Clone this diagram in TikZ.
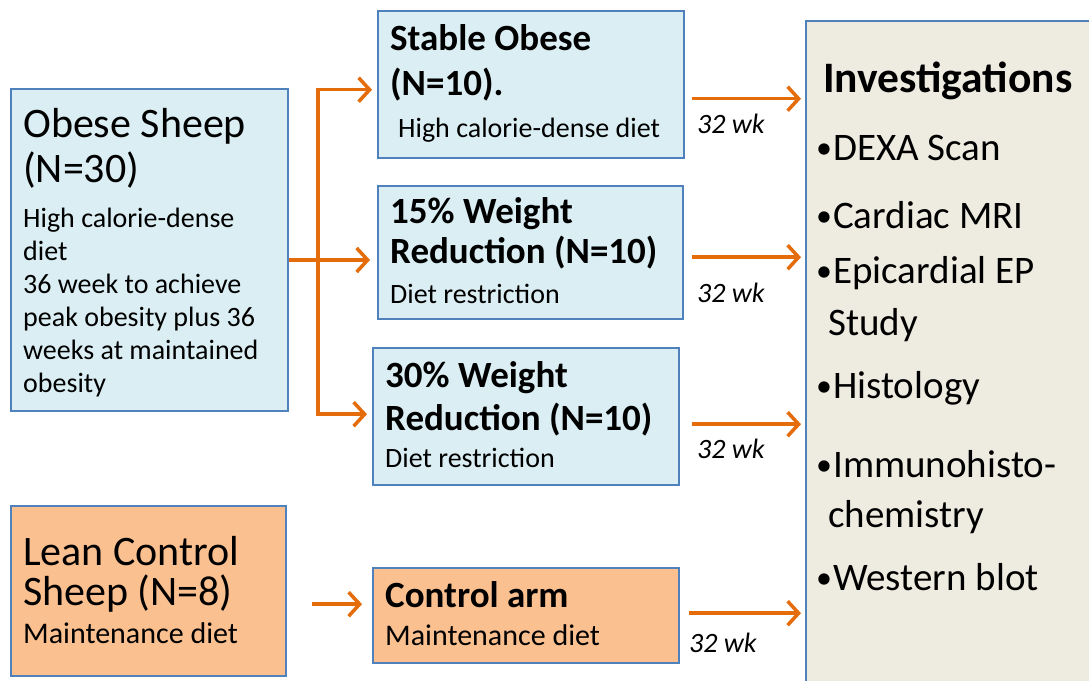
\documentclass[tikz,border=0pt]{standalone}
\usepackage{fontspec}
\setmainfont{Carlito}
\usetikzlibrary{arrows.meta}

\definecolor{boxblue}{RGB}{218,238,243}
\definecolor{edgeblue}{RGB}{79,129,189}
\definecolor{boxorange}{RGB}{250,192,144}
\definecolor{arrorange}{RGB}{228,108,10}
\definecolor{boxtan}{RGB}{238,236,225}

\newcommand{\ttlfont}{\mdseries\fontsize{42}{45}\selectfont}
\newcommand{\grpfont}{\bfseries\fontsize{37}{45}\selectfont}
\newcommand{\subfont}{\mdseries\fontsize{28}{33}\selectfont}
\newcommand{\midfont}{\mdseries\fontsize{30}{36}\selectfont}
\newcommand{\itm}{\makebox[17pt][l]{\raisebox{2pt}{\fontsize{32}{32}\selectfont\textbullet}}}

\tikzset{
  grpbox/.style={draw=edgeblue, line width=2.4pt, fill=boxblue, inner sep=0pt, anchor=north west},
  ctlbox/.style={grpbox, fill=boxorange},
  invbox/.style={grpbox, fill=boxtan},
  txt/.style={anchor=base west, inner sep=0pt, align=flush left, text width=290pt},
  joinline/.style={draw=arrorange, line width=3.5pt},
  arr/.style={joinline, -{Straight Barb[length=11pt,width=24pt]}},
  wk/.style={font=\fontsize{28}{30}\selectfont\itshape, anchor=west, inner sep=0pt}
}

\begin{document}
\begin{tikzpicture}[x=1pt,y=-1pt]
\useasboundingbox (0,0) rectangle (1089,680);

% boxes
\node[grpbox, minimum width=277pt, minimum height=322pt] (obese) at (10,88) {};
\node[ctlbox, minimum width=275pt, minimum height=170pt] (lean) at (10,505) {};
\node[grpbox, minimum width=306pt, minimum height=147pt] (stable) at (377,10) {};
\node[grpbox, minimum width=305pt, minimum height=133pt] (w15) at (377,185) {};
\node[grpbox, minimum width=306pt, minimum height=137pt] (w30) at (372,347) {};
\node[ctlbox, minimum width=306pt, minimum height=95pt] (ctrl) at (372,567) {};
\node[invbox, minimum width=300pt, minimum height=700pt] (inv) at (805,20) {};

% box texts
\node[txt] (obesetxt) at (23,137) {\ttlfont Obese Sheep\\ (N=30)\par\vspace{12pt}
  \subfont High calorie-dense\\ diet\\ 36 week to achieve\\ peak obesity plus 36\\
  weeks at maintained\\ obesity\par};
\node[txt] (leantxt) at (23,565) {\ttlfont Lean Control\\[-5pt] Sheep (N=8)\par\vspace{2pt}
  \midfont Maintenance diet\par};
\node[txt] (stabletxt) at (390,50) {\grpfont Stable Obese\\ (N=10).\par\vspace{9pt}
  \subfont\hspace*{8pt}High calorie-dense diet\par};
\node[txt] (w15txt) at (390,223) {\grpfont 15\% Weight\\[-5pt] Reduction (N=10)\par\vspace{7pt}
  \subfont Diet restriction\par};
\node[txt] (w30txt) at (385,387) {\grpfont 30\% Weight\\[-2pt] Reduction (N=10)\par\vspace{4pt}
  \subfont Diet restriction\par};
\node[txt] (ctrltxt) at (385,607) {\grpfont Control arm\par\vspace{2pt}
  \midfont Maintenance diet\par};
\node[txt, font=\fontsize{39}{52}\selectfont] (invtxt) at (816,92) {{\bfseries\fontsize{43.5}{52}\selectfont
  \hspace*{7pt}Investigations}\\[16pt]
  \itm DEXA Scan\\[16pt]
  \itm Cardiac MRI\\[3pt]
  \itm Epicardial EP\\
  \hspace*{12pt}Study\\[11pt]
  \itm Histology\\[27pt]
  \itm Immunohisto-\\[-2pt]
  \hspace*{12pt}chemistry\\[11pt]
  \itm Western blot\par};

% branch from obese group
\coordinate (br) at (318,260);
\draw[joinline] (obese.east |- br) -- (br);
\draw[arr, shorten >=5pt] (br) |- ([yshift=-5pt]stable.west);
\draw[arr, shorten >=7pt] (br) -- (br -| w15.west);
\draw[arr, shorten >=5pt] (br) |- ([yshift=2.5pt]w30.west);

% lean control
\draw[arr, shorten >=10pt] ([xshift=25pt,yshift=-13pt]lean.east) -- ([yshift=-13pt]lean.east -| ctrl.west);

% to investigations
\draw[arr, shorten >=4pt] ([xshift=7pt,yshift=-14pt]stable.east) -- ([yshift=-14pt]stable.east -| inv.west)
  node[wk, at start, xshift=3pt, yshift=-25pt] (wk1) {32 wk};
\draw[arr, shorten >=4pt] ([xshift=8pt,yshift=-4.5pt]w15.east) -- ([yshift=-4.5pt]w15.east -| inv.west)
  node[wk, at start, xshift=3pt, yshift=-36pt] (wk2) {32 wk};
\draw[arr, shorten >=4pt] ([xshift=12pt,yshift=-7.5pt]w30.east) -- ([yshift=-7.5pt]w30.east -| inv.west)
  node[wk, at start, xshift=3pt, yshift=-25pt] (wk3) {32 wk};
\draw[arr, shorten >=4pt] ([xshift=9pt,yshift=2.5pt]ctrl.east) -- ([yshift=2.5pt]ctrl.east -| inv.west)
  node[wk, at start, xshift=-2pt, yshift=-30pt] (wk4) {32 wk};
\end{tikzpicture}
\end{document}
